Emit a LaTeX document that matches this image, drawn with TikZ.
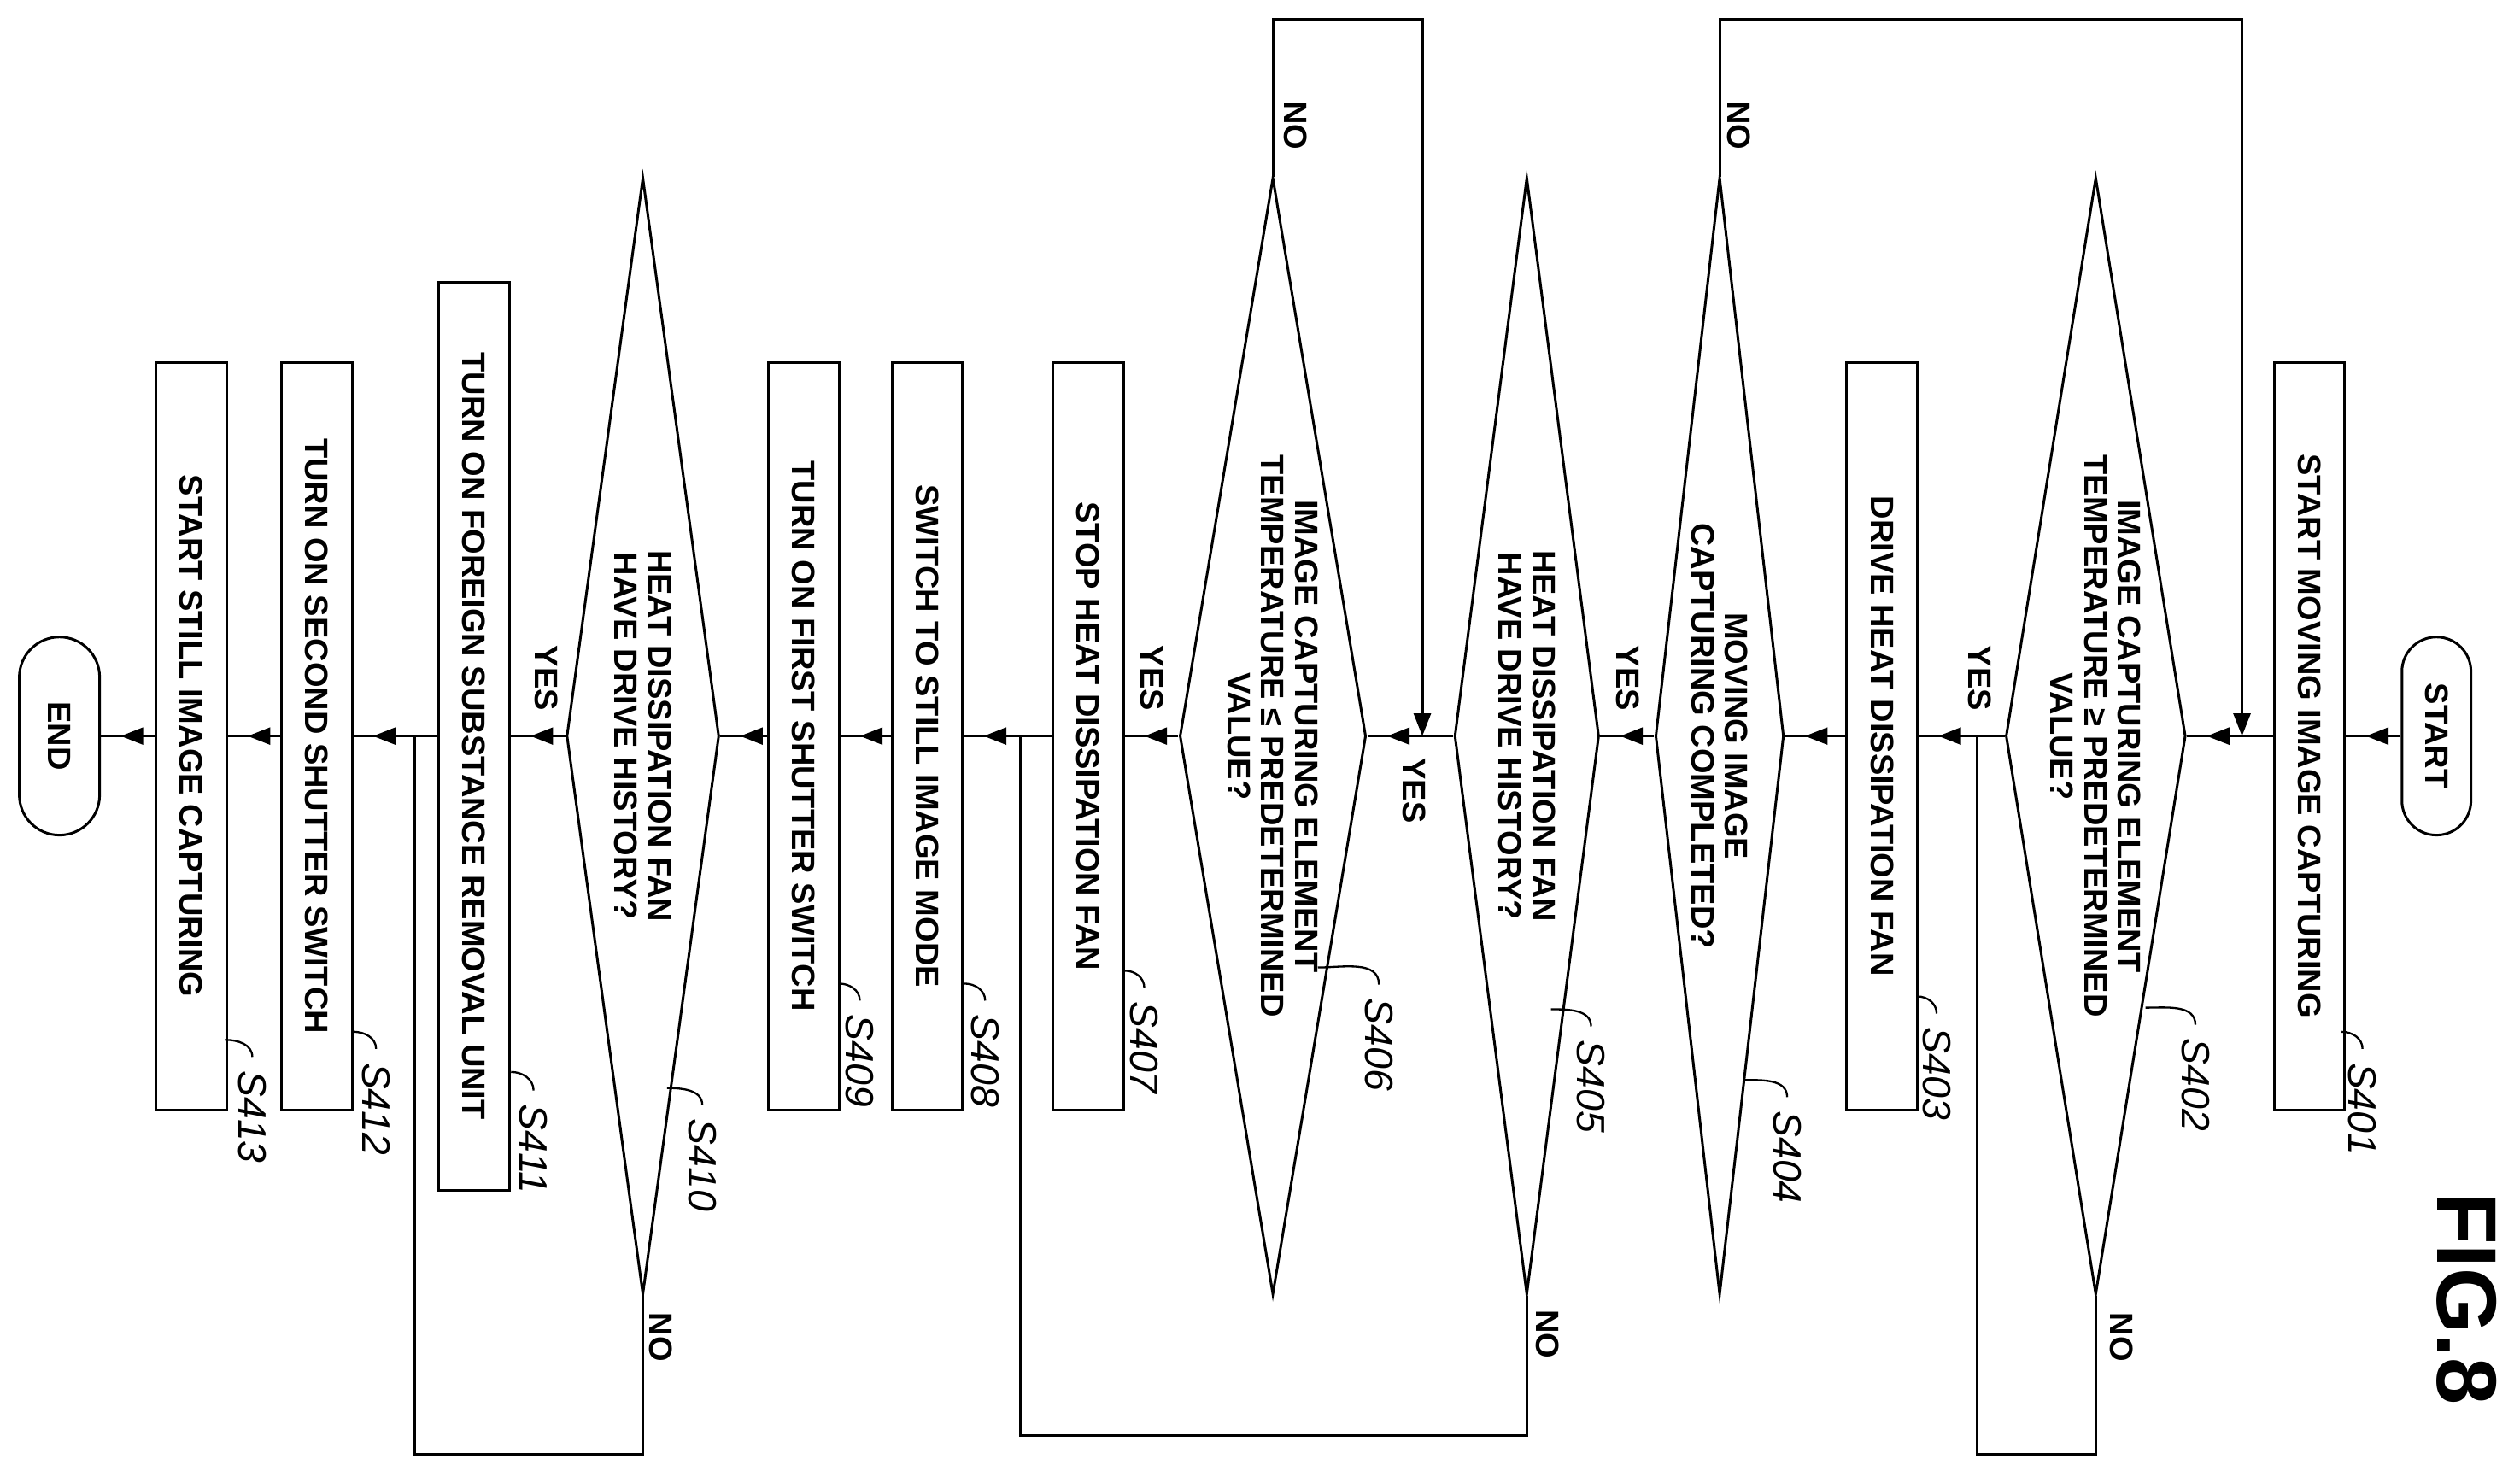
\documentclass[tikz,border=0pt]{standalone}
\usepackage{fontspec}
\setmainfont{Liberation Sans}
\usetikzlibrary{shapes.geometric,shapes.misc,arrows.meta,decorations.markings}
\begin{document}
\begin{tikzpicture}[x=0.02cm,y=-0.02cm,line width=0.9pt,
  every node/.style={font=\fontsize{11.5}{12}\selectfont\bfseries},
  box/.style={draw,rotate=-90,minimum width=9.3cm,minimum height=0.88cm,inner sep=1pt},
  term/.style={draw,rotate=-90,rounded rectangle,minimum width=2.7cm,minimum height=0.86cm},
  dia/.style={draw,diamond,inner sep=0pt,minimum height=13.9cm},
  dtext/.style={rotate=-90,align=center},
  lbl/.style={rotate=-90,font=\fontsize{14}{14}\selectfont\itshape},
  yn/.style={rotate=-90},
  flow/.style={postaction={decorate},decoration={markings,mark=at position -7pt with {\arrow{Triangle[length=8pt,width=6pt]}}}},
  back/.style={-{Triangle[length=8pt,width=6pt]}}]
\useasboundingbox (0,0) rectangle (1568,915);
\node[term] (start) at (1516,458) {START};
\node[box] (s401) at (1437,458) {START MOVING IMAGE CAPTURING};
\node[dia,minimum width=2.24cm] (d402) at (1304,458) {};
\node[dtext] at (d402) {IMAGE CAPTURING ELEMENT\\TEMPERATURE ≥ PREDETERMINED\\VALUE?};
\node[box] (s403) at (1171,458) {DRIVE HEAT DISSIPATION FAN};
\node[dia,minimum width=1.6cm] (d404) at (1070,458) {};
\node[dtext] at (d404) {MOVING IMAGE\\CAPTURING COMPLETED?};
\node[dia,minimum width=1.8cm] (d405) at (950,458) {};
\node[dtext] at (d405) {HEAT DISSIPATION FAN\\HAVE DRIVE HISTORY?};
\node[dia,minimum width=2.32cm] (d406) at (792,458) {};
\node[dtext] at (d406) {IMAGE CAPTURING ELEMENT\\TEMPERATURE ≤ PREDETERMINED\\VALUE?};
\node[box] (s407) at (677,458) {STOP HEAT DISSIPATION FAN};
\node[box] (s408) at (577,458) {SWITCH TO STILL IMAGE MODE};
\node[box] (s409) at (500,458) {TURN ON FIRST SHUTTER SWITCH};
\node[dia,minimum width=1.9cm] (d410) at (400,458) {};
\node[dtext] at (d410) {HEAT DISSIPATION FAN\\HAVE DRIVE HISTORY?};
\node[box,minimum width=11.3cm] (s411) at (295,458) {TURN ON FOREIGN SUBSTANCE REMOVAL UNIT};
\node[box] (s412) at (197,458) {TURN ON SECOND SHUTTER SWITCH};
\node[box] (s413) at (119,458) {START STILL IMAGE CAPTURING};
\node[term,minimum height=1cm] (end) at (37,458) {END};
\node[rotate=-90,font=\fontsize{30}{30}\selectfont\bfseries] (fig) at (1535,808) {FIG.8};
% main flow
\draw[flow] (start.south) -- (s401.north);
\draw[flow] (s401.south) -- (d402.east);
\draw[flow] (d402.west) -- (s403.north);
\draw[flow] (s403.south) -- (d404.east);
\draw[flow] (d404.west) -- (d405.east);
\draw[flow] (d405.west) -- (d406.east);
\draw[flow] (d406.west) -- (s407.north);
\draw[flow] (s407.south) -- (s408.north);
\draw[flow] (s408.south) -- (s409.north);
\draw[flow] (s409.south) -- (d410.east);
\draw[flow] (d410.west) -- (s411.north);
\draw[flow] (s411.south) -- (s412.north);
\draw[flow] (s412.south) -- (s413.north);
\draw[flow] (s413.south) -- (end.north);
% loops
\coordinate (j1) at (1395,458);
\coordinate (j2) at (885,458);
\coordinate (j3) at (1230,458);
\coordinate (j4) at (635,458);
\coordinate (j5) at (258,458);
\draw[back] (d404.north) |- (1395,12) -- (j1);
\draw[back] (d406.north) |- (885,12) -- (j2);
\draw (d402.south) |- (1230,905) -- (j3);
\draw (d405.south) |- (635,893) -- (j4);
\draw (d410.south) |- (258,905) -- (j5);
% yes/no
\node[yn] at (1232,422) {YES};
\node[yn] at (1013,422) {YES};
\node[yn] at (880,492) {YES};
\node[yn] at (717,422) {YES};
\node[yn] at (340,422) {YES};
\node[yn] at (1082,78) {NO};
\node[yn] at (806,78) {NO};
\node[yn] at (1320,832) {NO};
\node[yn] at (963,830) {NO};
\node[yn] at (411,832) {NO};
% step labels
\foreach \n/\x/\y/\bx in {401/1470/690/1457,402/1366/675/1335,403/1205/668/1193,404/1112/720/1085,405/990/676/965,406/858/650/820,407/712/652/700,408/613/660/600,409/535/660/522,410/437/725/415,411/332/715/318,412/234/690/220,413/157/695/140}{
  \node[lbl] (l\n) at (\x,\y) {S\n};
  \draw[line width=0.7pt] (l\n.west) ++(0,-2) to[out=90,in=0] (\bx,\y-48);
}
\end{tikzpicture}
\end{document}
